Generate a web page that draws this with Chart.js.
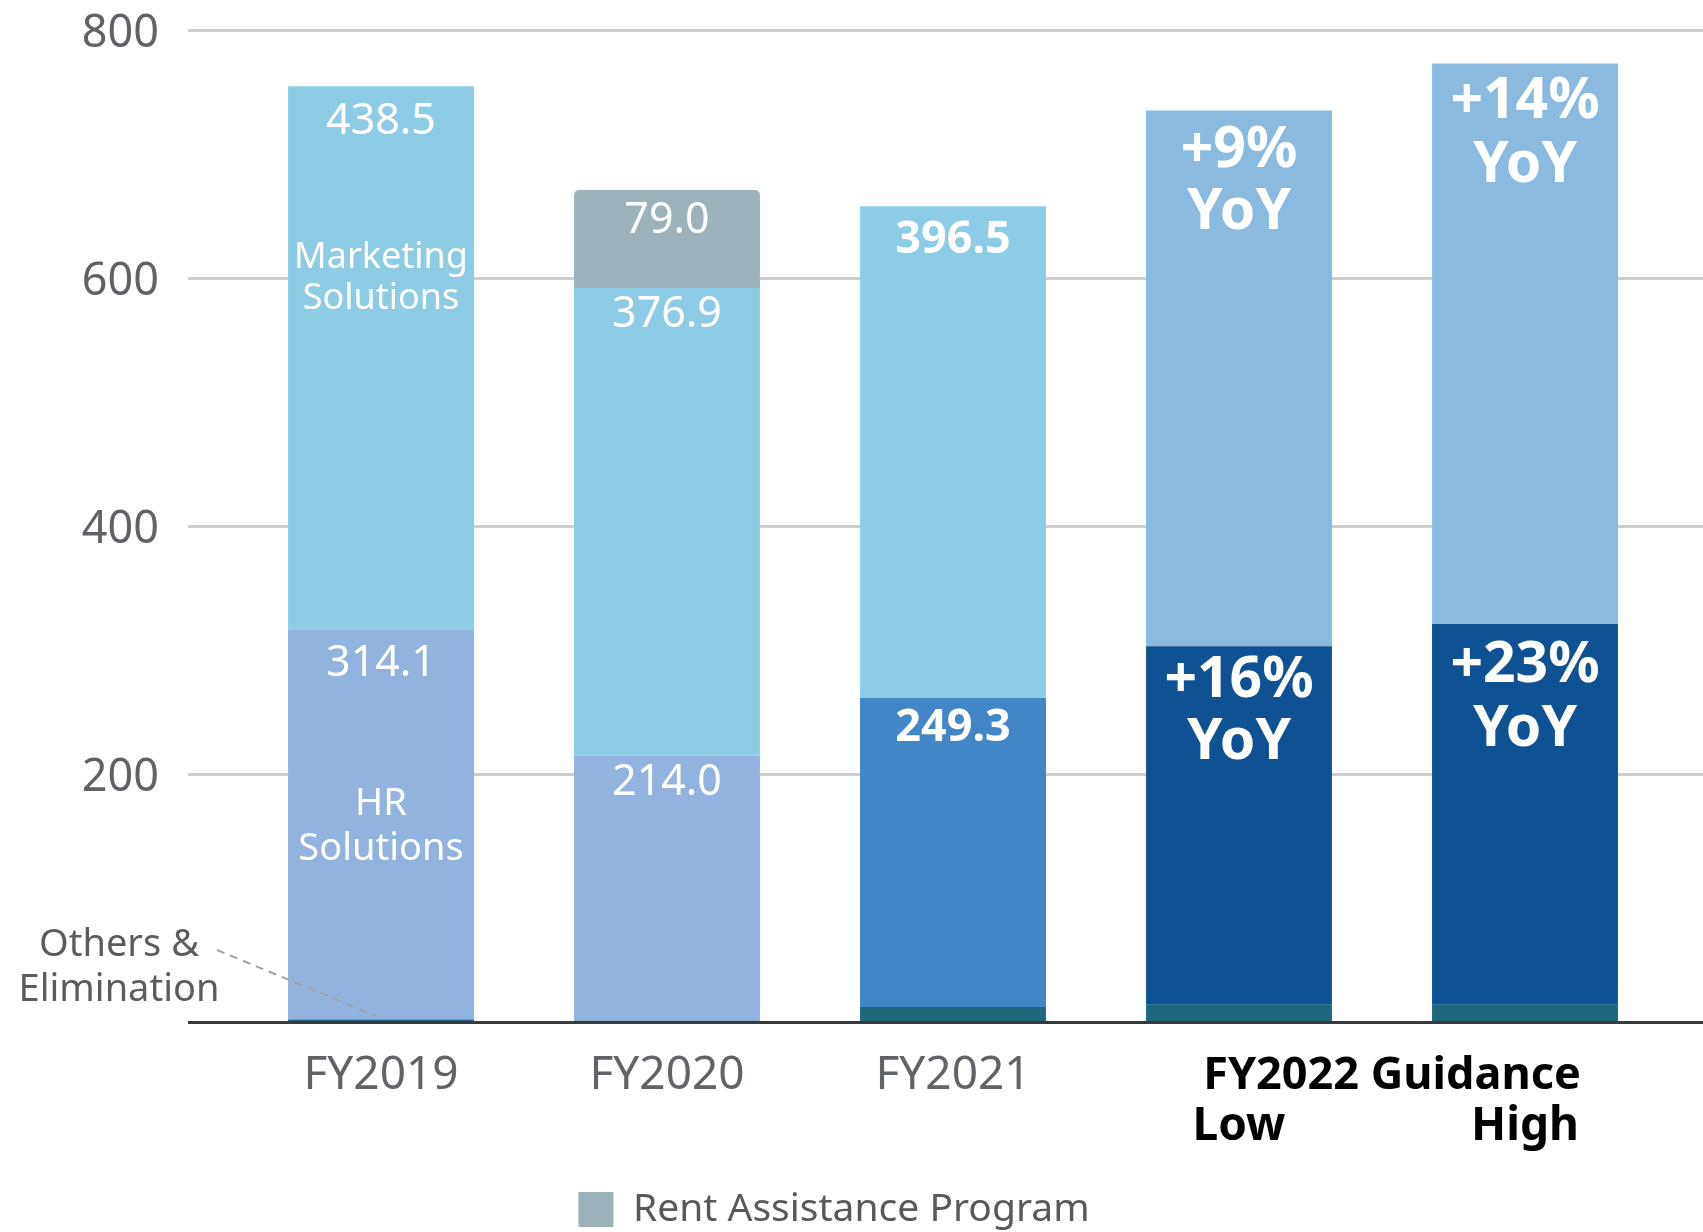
<!DOCTYPE html>
<html><head><meta charset="utf-8">
<script src="https://cdn.jsdelivr.net/npm/chart.js@4.4.1/dist/chart.umd.min.js"></script>
<style>html,body{margin:0;padding:0;background:#fff;} #wrap{width:1703px;height:1232px;}</style>
</head><body><div id="wrap"><canvas id="c" width="1703" height="1232"></canvas></div>
<script>
// ---- data ----
const categories = ["FY2019", "FY2020", "FY2021", "FY2022 Guidance Low", "FY2022 Guidance High"];
const tickLabels = [["FY2019"], ["FY2020"], ["FY2021"], ["", "Low"], ["", "High"]];
const groupLabel = "FY2022 Guidance";
const othersValues = [2, 1, 12, 14, 14];
const hrValues = [314.1, 214.0, 249.3, 289, 307];
const marketingValues = [438.5, 376.9, 396.5, 432, 452];
const rentValues = [0, 79.0, 0, 0, 0];
const hrYoY = ["", "", "", "+16%", "+23%"];
const marketingYoY = ["", "", "", "+9%", "+14%"];
const yTickLabels = ["200", "400", "600", "800"];
const segmentNames = { hr: ["HR", "Solutions"], marketing: ["Marketing", "Solutions"], others: ["Others &", "Elimination"] };
const legendName = "Rent Assistance Program";

// ---- styles ----
const othersColors = ["#2a6288", "#1f687c", "#1f687c", "#1f687c", "#1f687c"];
const hrColors = ["#92b3e0", "#92b3e0", "#4186c6", "#0e5294", "#0e5294"];
const marketingColors = ["#8ccde5", "#8ccde5", "#8ccde5", "#8abadf", "#8abadf"];
const rentColor = "#9cb1b9";
const FONT = "'Noto Sans', 'DejaVu Sans', sans-serif";

const gridPlugin = {
  id: 'customGrid',
  beforeDatasetsDraw(chart) {
    const c = chart.ctx, y = chart.scales.y;
    c.save();
    c.strokeStyle = '#cdcdcd';
    c.lineWidth = 3;
    y.ticks.forEach(t => {
      if (t.value === 0) return;
      const py = Math.round(y.getPixelForValue(t.value)) + 0.5;
      c.beginPath(); c.moveTo(188, py); c.lineTo(chart.width, py); c.stroke();
    });
    c.restore();
  },
  afterDatasetsDraw(chart) {
    const c = chart.ctx, y = chart.scales.y, x = chart.scales.x;
    c.save();
    const py = Math.round(y.getPixelForValue(0)) + 0.5;
    c.strokeStyle = '#383b3e'; c.lineWidth = 3;
    c.beginPath(); c.moveTo(188, py); c.lineTo(chart.width, py); c.stroke();

    // segment labels (alphabetic baseline offsets from segment top)
    c.fillStyle = '#fff'; c.textAlign = 'center'; c.textBaseline = 'alphabetic';
    const mHR = chart.getDatasetMeta(1), mMk = chart.getDatasetMeta(2), mR = chart.getDatasetMeta(3);
    const reg = `400 43px ${FONT}`, bold = `700 45px ${FONT}`, big = `700 57px ${FONT}`;
    const mkOff = [48, 39, 47, 56, 55], mkOff2 = [0, 0, 0, 118, 119];
    const hrOff = [46, 40, 43, 51, 58], hrOff2 = [0, 0, 0, 113, 122];
    categories.forEach((cat, i) => {
      const hr = mHR.data[i], mk = mMk.data[i], rp = mR.data[i];
      if (hrYoY[i]) {
        c.font = big;
        c.fillText(marketingYoY[i], mk.x, mk.y + mkOff[i]);
        c.fillText("YoY", mk.x, mk.y + mkOff2[i]);
        c.fillText(hrYoY[i], hr.x, hr.y + hrOff[i]);
        c.fillText("YoY", hr.x, hr.y + hrOff2[i]);
      } else {
        c.font = i === 2 ? bold : reg;
        c.fillText(hrValues[i].toFixed(1), hr.x, hr.y + hrOff[i]);
        c.fillText(marketingValues[i].toFixed(1), mk.x, mk.y + mkOff[i]);
        if (rentValues[i] > 0) c.fillText(rentValues[i].toFixed(1), rp.x, rp.y + 43);
      }
    });
    // segment names on first bar
    const hr0 = mHR.data[0], mk0 = mMk.data[0];
    c.font = `400 36px ${FONT}`;
    c.fillText(segmentNames.marketing[0], mk0.x, mk0.y + 182);
    c.fillText(segmentNames.marketing[1], mk0.x, mk0.y + 223);
    c.font = `400 38px ${FONT}`;
    c.fillText(segmentNames.hr[0], hr0.x, hr0.y + 185);
    c.fillText(segmentNames.hr[1], hr0.x, hr0.y + 230);

    // Others & Elimination annotation
    c.fillStyle = '#5a5c5e';
    c.font = `400 38px ${FONT}`;
    const base = y.getPixelForValue(0);
    c.fillText(segmentNames.others[0], 119, base - 66);
    c.fillText(segmentNames.others[1], 119, base - 21);
    c.strokeStyle = '#a0a0a0'; c.lineWidth = 2; c.setLineDash([8, 6]);
    c.beginPath(); c.moveTo(217, base - 72); c.lineTo(x.getPixelForValue(0) - 5, base - 6); c.stroke();
    c.setLineDash([]);

    // group label for guidance
    c.fillStyle = '#000'; c.font = `700 45px ${FONT}`; c.textBaseline = 'middle';
    const gx = (x.getPixelForValue(3) + x.getPixelForValue(4)) / 2 + 10;
    c.fillText(groupLabel, gx, x.top + 28 + 26);
    c.restore();
  }
};

new Chart(document.getElementById('c'), {
  type: 'bar',
  data: {
    labels: categories,
    datasets: [
      { label: 'Others & Elimination', data: othersValues, backgroundColor: othersColors },
      { label: 'HR Solutions', data: hrValues, backgroundColor: hrColors },
      { label: 'Marketing Solutions', data: marketingValues, backgroundColor: marketingColors },
      { label: legendName, data: rentValues, backgroundColor: rentColor, borderRadius: { topLeft: 5, topRight: 5 } }
    ]
  },
  options: {
    responsive: false, animation: false, devicePixelRatio: 1,
    layout: { padding: { top: 30, right: 35, left: 0, bottom: -7 } },
    datasets: { bar: { categoryPercentage: 1, barPercentage: 0.65, borderWidth: 0 } },
    scales: {
      x: {
        stacked: true,
        grid: { display: false, drawTicks: false },
        border: { display: false },
        ticks: {
          padding: 28,
          autoSkip: false, maxRotation: 0,
          labelOffset: (ctx) => ctx.index === 3 ? 18 : 0,
          callback: (v, i) => tickLabels[i],
          color: (ctx) => ctx.index >= 3 ? '#000' : '#606468',
          font: (ctx) => ({ family: FONT, size: 46, weight: ctx.index >= 3 ? '700' : '400', lineHeight: 1.12 })
        },
        afterFit(s) { s.height = 158; }
      },
      y: {
        stacked: true, min: 0, max: 800,
        grid: { display: false, drawTicks: false },
        border: { display: false },
        ticks: {
          stepSize: 200, padding: 79, color: '#5f6368', labelOffset: 4,
          font: { family: FONT, size: 45, weight: '400' },
          callback: (v) => yTickLabels.includes(String(v)) ? String(v) : ''
        },
        afterFit(s) { s.width = 238; s.paddingTop = 0; s.paddingBottom = 0; }
      }
    },
    plugins: {
      legend: {
        position: 'bottom',
        labels: {
          filter: (item) => item.datasetIndex === 3,
          boxWidth: 35, boxHeight: 35, padding: 10,
          color: '#58595b',
          font: { family: FONT, size: 39 }
        }
      },
      tooltip: { enabled: false }
    }
  },
  plugins: [gridPlugin]
});
</script>
</body></html>
